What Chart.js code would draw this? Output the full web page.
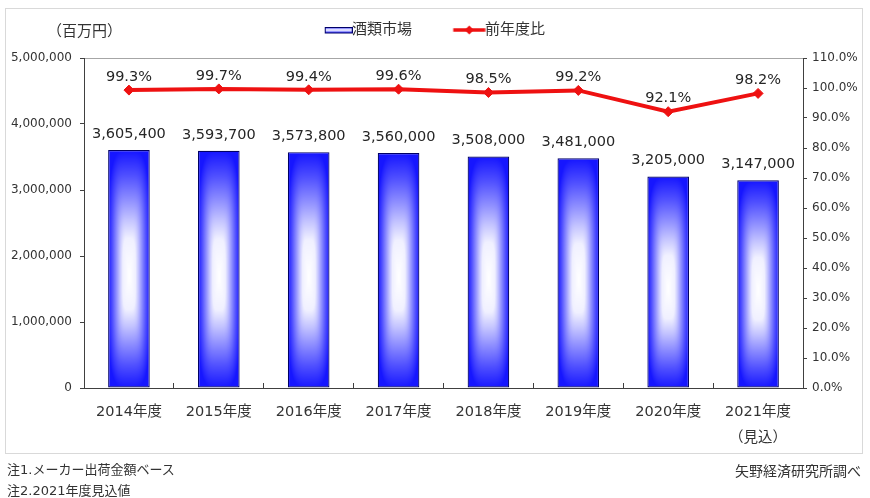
<!DOCTYPE html>
<html>
<head>
<meta charset="utf-8">
<script src="https://cdn.jsdelivr.net/npm/chart.js@4.4.1/dist/chart.umd.min.js"></script>
<style>
  html, body { margin: 0; padding: 0; background: #ffffff; }
  body { width: 870px; height: 498px; position: relative; overflow: hidden;
         font-family: "DejaVu Sans", "Noto Sans CJK JP", sans-serif; color: #333333; }
  #frame { position: absolute; left: 5px; top: 8px; width: 858px; height: 446px;
           box-sizing: border-box; border: 1px solid #d9d9d9; }
  #chart { position: absolute; left: 0; top: 0; }
  .txt { position: absolute; white-space: nowrap; }
</style>
</head>
<body>
<div id="frame"></div>
<canvas id="chart" width="870" height="498"></canvas>
<div class="txt" style="left:47px; top:21px; font-size:15px; line-height:20px;">（百万円）</div>
<div class="txt" style="left:7px; top:462px; font-size:13px; line-height:16px;">注1.メーカー出荷金額ベース</div>
<div class="txt" style="left:7px; top:483px; font-size:13px; line-height:16px;">注2.2021年度見込値</div>
<div class="txt" style="right:9px; top:463px; font-size:14px; line-height:16px;">矢野経済研究所調べ</div>
<script>
// ---- data ----
const categories = ['2014年度', '2015年度', '2016年度', '2017年度', '2018年度', '2019年度', '2020年度', '2021年度'];
const estimateNote = '（見込）';
const marketValues = [3605400, 3593700, 3573800, 3560000, 3508000, 3481000, 3205000, 3147000];
const yoyRatios = [99.3, 99.7, 99.4, 99.6, 98.5, 99.2, 92.1, 98.2];
const seriesNames = ['酒類市場', '前年度比'];
const leftAxisMax = 5000000;
const leftAxisStep = 1000000;
const rightAxisMax = 110;
const rightAxisStep = 10;

const FONT = '"DejaVu Sans", "Noto Sans CJK JP", sans-serif';
const TEXT = '#333333';
const AXIS = '#404040';
const RED = '#ee1111';

Chart.defaults.font.family = FONT;
Chart.defaults.color = TEXT;

const xLabels = categories.map((c, i) => i === categories.length - 1 ? [c, estimateNote] : c);

// "shade from centre" texture: whiteness as a function of normalised distance
const SHADE = [[0, 255], [0.3, 240], [0.45, 195], [0.6, 145], [0.8, 80], [1, 22]];
function shadeAt(d) {
  if (d >= 1) return SHADE[SHADE.length - 1][1];
  for (let k = 1; k < SHADE.length; k++) {
    if (d <= SHADE[k][0]) {
      const a = SHADE[k - 1], b = SHADE[k];
      return a[1] + (b[1] - a[1]) * (d - a[0]) / (b[0] - a[0]);
    }
  }
  return SHADE[SHADE.length - 1][1];
}
function makeBarPattern(ctx, left, top, w, h) {
  const s = 2;
  const c = document.createElement('canvas');
  const W = Math.max(1, Math.ceil(w * s)), H = Math.max(1, Math.ceil(h * s));
  c.width = W; c.height = H;
  const g = c.getContext('2d');
  const img = g.createImageData(W, H);
  const cx = W / 2, cy = H * 0.53;
  for (let j = 0; j < H; j++) {
    const v = j < cy ? (cy - j) / cy : (j - cy) / (H - cy);
    const v4 = Math.pow(v, 4);
    for (let i = 0; i < W; i++) {
      const u = Math.abs(i + 0.5 - cx) / cx;
      const d = Math.pow(Math.pow(u, 4) + v4, 0.25);
      const wv = Math.round(shadeAt(d));
      const o = (j * W + i) * 4;
      img.data[o] = wv; img.data[o + 1] = wv; img.data[o + 2] = 255; img.data[o + 3] = 255;
    }
  }
  g.putImageData(img, 0, 0);
  const pat = ctx.createPattern(c, 'no-repeat');
  pat.setTransform(new DOMMatrix([1 / s, 0, 0, 1 / s, left, top]));
  return pat;
}

const barFill = {
  id: 'barFill',
  beforeDatasetDraw(chart, args) {
    if (args.index !== 0) return;
    args.meta.data.forEach(el => {
      const p = el.getProps(['x', 'y', 'base', 'width'], true);
      const left = p.x - p.width / 2;
      const top = Math.min(p.y, p.base);
      const h = Math.abs(p.base - p.y);
      const pat = makeBarPattern(chart.ctx, left, top, p.width, h);
      el.options = Object.assign({}, el.options, { backgroundColor: pat });
    });
  }
};

const valueLabels = {
  id: 'valueLabels',
  afterDatasetsDraw(chart) {
    const ctx = chart.ctx;
    ctx.save();
    ctx.font = '14.5px ' + FONT;
    ctx.fillStyle = '#262626';
    ctx.textAlign = 'center';
    ctx.textBaseline = 'middle';
    chart.getDatasetMeta(0).data.forEach((el, i) => {
      ctx.fillText(marketValues[i].toLocaleString('en-US'), el.x, el.y - 16);
    });
    chart.getDatasetMeta(1).data.forEach((el, i) => {
      ctx.fillText(yoyRatios[i].toFixed(1) + '%', el.x, el.y - 13);
    });
    ctx.restore();
  }
};

function barSwatch() {
  const c = document.createElement('canvas');
  c.width = 72; c.height = 8;
  const g = c.getContext('2d');
  const gr = g.createLinearGradient(0, 1, 0, 7);
  gr.addColorStop(0, '#2a2aff'); gr.addColorStop(0.5, '#ffffff'); gr.addColorStop(1, '#2a2aff');
  g.fillStyle = gr;
  g.fillRect(44.5, 1.5, 27, 5.5);
  g.strokeStyle = '#000066'; g.lineWidth = 1;
  g.strokeRect(44.5, 1.5, 27, 5.5);
  return c;
}
function lineSwatch() {
  const c = document.createElement('canvas');
  c.width = 72; c.height = 12;
  const g = c.getContext('2d');
  g.strokeStyle = RED; g.lineWidth = 3.5;
  g.beginPath(); g.moveTo(39.5, 6); g.lineTo(71.5, 6); g.stroke();
  g.fillStyle = RED;
  g.beginPath(); g.moveTo(55.5, 1.5); g.lineTo(60, 6); g.lineTo(55.5, 10.5); g.lineTo(51, 6); g.closePath(); g.fill();
  return c;
}
const swatches = [barSwatch(), lineSwatch()];

new Chart(document.getElementById('chart'), {
  data: {
    labels: xLabels,
    datasets: [
      {
        type: 'bar',
        label: seriesNames[0],
        data: marketValues,
        yAxisID: 'y',
        backgroundColor: '#4444ff',
        borderColor: '#000066',
        borderWidth: 1.2,
        borderSkipped: false,
        barPercentage: 0.463,
        categoryPercentage: 1.0,
        order: 1
      },
      {
        type: 'line',
        label: seriesNames[1],
        data: yoyRatios,
        yAxisID: 'y1',
        borderColor: RED,
        backgroundColor: RED,
        borderWidth: 4,
        pointStyle: 'rectRot',
        pointRadius: 5,
        pointBorderWidth: 1,
        pointBackgroundColor: RED,
        pointBorderColor: RED,
        tension: 0,
        order: 0
      }
    ]
  },
  options: {
    responsive: false,
    animation: false,
    layout: { padding: { top: 12.5, left: -36, right: 0, bottom: 0 } },
    plugins: {
      tooltip: { enabled: false },
      title: {
        display: true, text: '', weight: 500,
        font: { size: 10.5, lineHeight: 1 }, padding: 0
      },
      legend: {
        display: true,
        position: 'top',
        align: 'center',
        labels: {
          usePointStyle: true,
          pointStyleWidth: 55.5,
          padding: 10,
          color: TEXT,
          font: { size: 15, family: FONT },
          generateLabels: () => seriesNames.map((name, i) => ({
            text: name,
            pointStyle: swatches[i],
            fillStyle: 'rgba(0,0,0,0)',
            strokeStyle: 'rgba(0,0,0,0)',
            lineWidth: 0,
            hidden: false,
            datasetIndex: i,
            fontColor: TEXT
          }))
        }
      }
    },
    scales: {
      x: {
        type: 'category',
        position: 'bottom',
        offset: true,
        grid: {
          offset: true,
          drawOnChartArea: false,
          drawTicks: true,
          tickLength: -5,
          tickColor: AXIS,
          color: AXIS
        },
        border: { display: true, color: AXIS, width: 1 },
        ticks: {
          color: TEXT,
          padding: 16,
          maxRotation: 0,
          autoSkip: false,
          font: { size: 14.5, lineHeight: 26 / 14.5 }
        },
        afterFit(scale) { scale.height = 110; }
      },
      y: {
        type: 'linear',
        position: 'left',
        min: 0,
        max: leftAxisMax,
        grid: {
          drawOnChartArea: true,
          drawTicks: true,
          tickLength: 4,
          tickColor: AXIS,
          color: c => (c.tick && c.tick.value === leftAxisMax) ? '#a6a6a6' : 'rgba(0,0,0,0)'
        },
        border: { display: true, color: AXIS, width: 1 },
        ticks: {
          stepSize: leftAxisStep,
          color: TEXT,
          padding: 8,
          font: { size: 12 },
          callback: v => Number(v).toLocaleString('en-US')
        },
        afterFit(scale) { scale.width = 120; }
      },
      y1: {
        type: 'linear',
        position: 'right',
        min: 0,
        max: rightAxisMax,
        grid: {
          drawOnChartArea: false,
          drawTicks: true,
          tickLength: 4,
          tickColor: AXIS,
          color: AXIS
        },
        border: { display: true, color: AXIS, width: 1 },
        ticks: {
          stepSize: rightAxisStep,
          color: TEXT,
          padding: 5,
          font: { size: 12 },
          callback: v => Number(v).toFixed(1) + '%'
        },
        afterFit(scale) { scale.width = 67; }
      }
    }
  },
  plugins: [barFill, valueLabels]
});
</script>
</body>
</html>
